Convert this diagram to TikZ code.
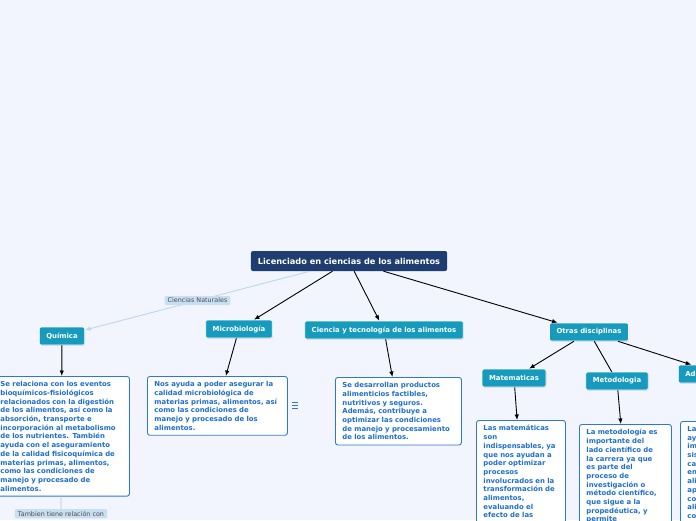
\documentclass[tikz,border=0pt]{standalone}
\usepackage{fontspec}
\setmainfont{DejaVu Sans}
\usetikzlibrary{arrows.meta,shadows}
\definecolor{bgc}{RGB}{242,245,254}
\definecolor{titleblue}{RGB}{31,61,112}
\definecolor{topicc}{RGB}{22,155,190}
\definecolor{notec}{RGB}{45,120,215}
\definecolor{notetext}{RGB}{30,110,205}
\definecolor{tagc}{RGB}{200,223,243}
\definecolor{linkc}{RGB}{188,216,240}

\begin{document}
\begin{tikzpicture}[x=1pt, y=-1pt,
  main/.style={fill=titleblue, text=white, rounded corners=2pt, font=\bfseries\fontsize{8.2}{9.5}\selectfont, minimum height=20pt, inner xsep=7pt},
  topic/.style={fill=topicc, draw=white, line width=0.6pt, text=white, rounded corners=2pt, font=\bfseries\fontsize{6.9}{8}\selectfont, minimum height=18pt, inner xsep=7pt, drop shadow={opacity=0.25, shadow xshift=0.6pt, shadow yshift=-0.8pt}},
  note/.style={draw=notec, fill=white, line width=0.9pt, rounded corners=2.5pt, text=notetext, align=left, anchor=north west, font=\bfseries\fontsize{6.9}{8.7}\selectfont, inner xsep=7pt, inner ysep=5pt},
  tag/.style={fill=tagc, text=black!70, font=\fontsize{6.4}{7.5}\selectfont, inner xsep=3pt, inner ysep=2pt, rounded corners=1pt},
  arrow/.style={-{Latex[length=5.5pt,width=4.5pt]}, line width=0.9pt},
  link/.style={-{Latex[length=5.5pt,width=4.5pt]}, draw=linkc, line width=0.9pt}
]
\clip (0,0) rectangle (696,520);
\fill[bgc] (0,0) rectangle (696,520);

\node[main] (root) at (349,261) {Licenciado en ciencias de los alimentos};
\node[topic] (quim) at (62,336) {Química};
\node[topic] (micro) at (239,329) {Microbiología};
\node[topic] (cta) at (384,330) {Ciencia y tecnología de los alimentos};
\node[topic] (otras) at (589,332) {Otras disciplinas};
\node[topic] (mate) at (514,378) {Matematicas};
\node[topic] (meto) at (617,381) {Metodologia};
\node[topic, anchor=west, text width=70pt, align=left] (adm) at (678,374) {Ad};

\node[note, text width=122pt] (quimtxt) at (-7,376) {Se relaciona con los eventos\\ bioquímicos-fisiológicos\\ relacionados con la digestión\\ de los alimentos, así como la\\ absorción, transporte e\\ incorporación al metabolismo\\ de los nutrientes. También\\ ayuda con el aseguramiento\\ de la calidad fisicoquímica de\\ materias primas, alimentos,\\ como las condiciones de\\ manejo y procesado de\\ alimentos.};
\node[note, text width=126pt] (microtxt) at (147,376) {Nos ayuda a poder asegurar la\\ calidad microbiológica de\\ materias primas, alimentos, así\\ como las condiciones de\\ manejo y procesado de los\\ alimentos.};
\node[note, text width=112pt] (ctatxt) at (335,377) {Se desarrollan productos\\ alimenticios factibles,\\ nutritivos y seguros.\\ Además, contribuye a\\ optimizar las condiciones\\ de manejo y procesamiento\\ de los alimentos.};
\node[note, text width=75pt] (matetxt) at (476,420) {Las matemáticas\\ son\\ indispensables, ya\\ que nos ayudan a\\ poder optimizar\\ procesos\\ involucrados en la\\ transformación de\\ alimentos,\\ evaluando el\\ efecto de las};
\node[note, text width=78pt] (metotxt) at (579,424) {La metodología es\\ importante del\\ lado científico de\\ la carrera ya que\\ es parte del\\ proceso de\\ investigación o\\ método científico,\\ que sigue a la\\ propedéutica, y\\ permite};
\node[note, text width=78pt] (admtxt) at (680,421) {La\\ ay\\ im\\ sis\\ ca\\ en\\ ali\\ ap\\ co\\ ali\\ co};
\node[tag, anchor=north] (tambien) at (61,509) {Tambien tiene relación con};

\draw[link] (root) -- node[tag] (cn) {Ciencias Naturales} (quim);
\draw[arrow] (root) -- (micro);
\draw[arrow] (root) -- (cta);
\draw[arrow] (root) -- (otras);
\draw[arrow] (quim) -- (quimtxt);
\draw[arrow] (micro) -- (microtxt);
\draw[arrow] (cta) -- (ctatxt);
\draw[arrow] (otras) -- (mate);
\draw[line width=0.9pt] (otras) -- (meto);
\draw[arrow] (otras) -- (adm);
\draw[arrow] (mate) -- (matetxt);
\draw[arrow] (meto) -- (metotxt);
\draw[linkc!80!gray, line width=0.8pt] (quimtxt) -- (tambien);
\foreach \dy in {-3,0,3}
  \draw[notec, line width=0.9pt] ([shift={(4,\dy)}]microtxt.east) -- ++(6,0);
\end{tikzpicture}
\end{document}
